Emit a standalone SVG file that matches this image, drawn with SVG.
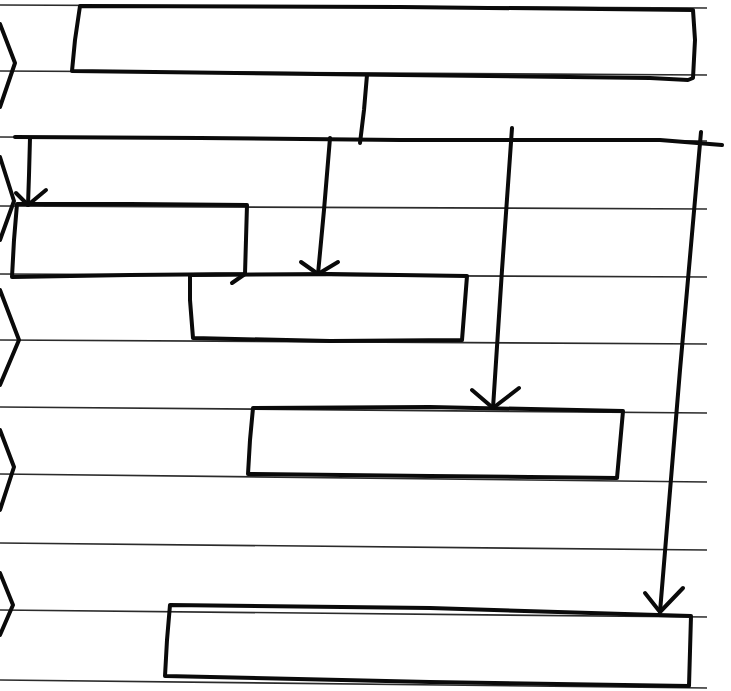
<svg xmlns="http://www.w3.org/2000/svg" width="731" height="691" viewBox="0 0 731 691">
  <style>
    .rule { stroke: #2b2b2b; stroke-width: 1.7; fill: none; }
    .ink { stroke: #0a0a0a; stroke-width: 4; fill: none; stroke-linecap: round; stroke-linejoin: round; }
    .box { stroke: #0a0a0a; stroke-width: 4; fill: none; stroke-linecap: round; stroke-linejoin: round; }
  </style>
  <rect width="731" height="691" fill="#ffffff"/>
  <g id="paper-lines">
    <path class="rule" d="M0 5 L707 8"/>
    <path class="rule" d="M0 71 L707 75"/>
    <path class="rule" d="M0 137 L707 141"/>
    <path class="rule" d="M0 206 L707 209"/>
    <path class="rule" d="M0 274 L707 277"/>
    <path class="rule" d="M0 340 L707 344"/>
    <path class="rule" d="M0 407 L707 413"/>
    <path class="rule" d="M0 474 L707 482"/>
    <path class="rule" d="M0 543 L707 550"/>
    <path class="rule" d="M0 610 L707 617"/>
    <path class="rule" d="M0 680 L707 688"/>
  </g>
  <g id="margin-chevrons">
    <path class="ink" d="M0 24 L15 63 L0 107"/>
    <path class="ink" d="M0 157 L14 201 L0 240"/>
    <path class="ink" d="M0 290 L19 340 L0 385"/>
    <path class="ink" d="M0 430 L14 467 L0 510"/>
    <path class="ink" d="M0 573 L13 605 L0 635"/>
  </g>
  <g id="node-top">
    <path class="box" d="M80 6 L400 7 L693 10 L695 40 L693 78 L688 80 L650 78 L400 75 L72 71 L75 40 Z"/>
  </g>
  <g id="node-a">
    <path class="box" d="M17 204 L130 204 L247 205 L245 274 L130 275 L12 277 L14 240 Z"/>
    <path class="ink" d="M245 274 L232 283"/>
  </g>
  <g id="node-b">
    <path class="box" d="M190 275 L330 274 L467 276 L462 340 L330 341 L193 338 L190 300 Z"/>
  </g>
  <g id="node-c">
    <path class="box" d="M253 408 L430 407 L623 411 L617 478 L430 476 L248 474 L250 440 Z"/>
  </g>
  <g id="node-d">
    <path class="box" d="M170 605 L430 608 L691 616 L689 686 L430 682 L165 676 L167 640 Z"/>
  </g>
  <g id="connectors">
    <path class="ink" d="M367 75 L364 110 L360 143"/>
    <path class="ink" d="M15 137 L200 138 L400 140 L600 140 L660 140 L722 145"/>
    <path class="ink" d="M30 138 L29 175 L28 205"/>
    <path class="ink" d="M16 193 L28 205 L46 190"/>
    <path class="ink" d="M330 138 L324 210 L318 274"/>
    <path class="ink" d="M301 262 L318 274 L338 262"/>
    <path class="ink" d="M512 128 L502 270 L493 408"/>
    <path class="ink" d="M472 390 L493 408 L519 388"/>
    <path class="ink" d="M701 132 L680 370 L660 612"/>
    <path class="ink" d="M645 593 L660 612 L683 588"/>
  </g>
</svg>
